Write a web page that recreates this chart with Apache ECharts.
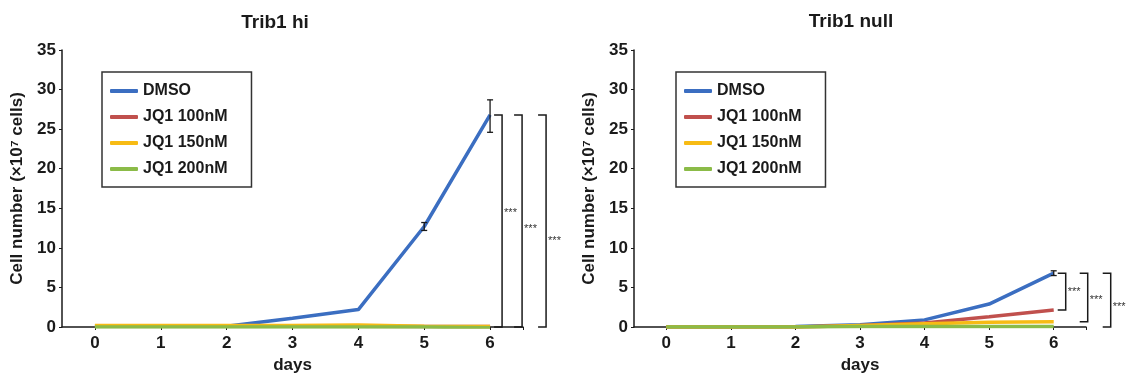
<!DOCTYPE html>
<html>
<head>
<meta charset="utf-8">
<script src="https://cdn.jsdelivr.net/npm/echarts@6/dist/echarts.min.js"></script>
<style>
  html, body { margin: 0; padding: 0; background: #fff; }
  #main { width: 1134px; height: 379px; }
</style>
</head>
<body>
<div id="main"></div>
<script>
// ---- data ----
var days = [0, 1, 2, 3, 4, 5, 6];
var seriesNames = ['DMSO', 'JQ1 100nM', 'JQ1 150nM', 'JQ1 200nM'];

// Trib1 hi
var hiDMSO = [0.1, 0.1, 0.1, 1.1, 2.2, 12.7, 26.8];
var hi100 = [0.1, 0.1, 0.1, 0.1, 0.1, 0.05, 0.05];
var hi150 = [0.2, 0.2, 0.2, 0.2, 0.25, 0.1, 0.05];
var hi200 = [0.0, 0.0, 0.0, 0.0, 0.0, 0.0, -0.1];
// error bars: [day, low, high]
var hiErr = [[5, 12.2, 13.2], [6, 24.6, 28.7]];
// significance brackets: [top, bottom]
var hiSig = [[26.8, 0], [26.8, 0], [26.8, 0]];

// Trib1 null
var nullDMSO = [0.0, 0.0, 0.05, 0.3, 0.9, 2.9, 6.8];
var null100 = [0.0, 0.0, 0.0, 0.2, 0.5, 1.3, 2.15];
var null150 = [0.0, 0.0, 0.0, 0.2, 0.4, 0.6, 0.65];
var null200 = [0.0, 0.0, 0.0, 0.05, 0.05, 0.05, 0.05];
var nullErr = [[6, 6.5, 7.1]];
var nullSig = [[6.8, 2.15], [6.8, 0.65], [6.8, 0.0]];

var colors = ['#3b6ec1', '#c0504d', '#f7bb14', '#8bbb48'];
var font = "'Liberation Sans', Arial, Helvetica, sans-serif";
var ink = '#1a1a1a';

// bracket pixel layout (offset right of day 6, star label shift)
var hiBracketX = [12, 32, 56];
var hiStarDy = [-8, 8, 20];
var nullBracketX = [12, 34, 57];
var nullStarDy = [0, 2, 7];

function pairs(vals) {
    return days.map(function (d, i) { return [d, vals[i]]; });
}

function lineSeries(name, vals, idx, k) {
    return {
        name: name,
        type: 'line',
        xAxisIndex: idx,
        yAxisIndex: idx,
        data: pairs(vals),
        showSymbol: false,
        symbol: 'none',
        lineStyle: { width: 3.5, color: colors[k] },
        itemStyle: { color: colors[k] },
        z: 2 + k
    };
}

function errSeries(err, idx) {
    return {
        type: 'custom',
        xAxisIndex: idx,
        yAxisIndex: idx,
        data: err,
        z: 10,
        renderItem: function (params, api) {
            var lo = api.coord([api.value(0), api.value(1)]);
            var hi = api.coord([api.value(0), api.value(2)]);
            var s = { stroke: ink, lineWidth: 1.3 };
            return {
                type: 'group',
                children: [
                    { type: 'line', shape: { x1: lo[0], y1: lo[1], x2: hi[0], y2: hi[1] }, style: s },
                    { type: 'line', shape: { x1: lo[0] - 3, y1: lo[1], x2: lo[0] + 3, y2: lo[1] }, style: s },
                    { type: 'line', shape: { x1: hi[0] - 3, y1: hi[1], x2: hi[0] + 3, y2: hi[1] }, style: s }
                ]
            };
        }
    };
}

function sigSeries(sig, idx, offX, starDy) {
    return {
        type: 'custom',
        xAxisIndex: idx,
        yAxisIndex: idx,
        data: sig,
        clip: false,
        z: 10,
        renderItem: function (params, api) {
            var i = params.dataIndex;
            var top = api.coord([6, api.value(0)]);
            var bot = api.coord([6, api.value(1)]);
            var x = top[0] + offX[i];
            var s = { stroke: ink, lineWidth: 1.5, fill: null };
            return {
                type: 'group',
                children: [
                    { type: 'polyline', shape: { points: [[x - 8, top[1]], [x, top[1]], [x, bot[1]], [x - 8, bot[1]]] }, style: s },
                    { type: 'text', style: { text: '***', x: x + 2, y: (top[1] + bot[1]) / 2 + starDy[i], verticalAlign: 'middle', font: '11px ' + font, fill: '#333' } }
                ]
            };
        }
    };
}

function xAxis(idx) {
    return {
        type: 'value',
        gridIndex: idx,
        min: -0.5,
        max: 6.5,
        name: 'days',
        nameLocation: 'middle',
        nameGap: 29,
        nameTextStyle: { fontFamily: font, fontWeight: 'bold', fontSize: 17, color: ink },
        axisLine: { show: true, onZero: false, lineStyle: { color: ink, width: 1.5 } },
        axisTick: { show: true, length: 3, customValues: days.concat([6.5]), lineStyle: { color: ink } },
        axisLabel: { customValues: days, margin: 8, fontFamily: font, fontWeight: 'bold', fontSize: 17, color: ink },
        splitLine: { show: false }
    };
}

function yAxis(idx) {
    return {
        type: 'value',
        gridIndex: idx,
        min: 0,
        max: 35,
        interval: 5,
        name: 'Cell number (\u00d710\u2077 cells)',
        nameLocation: 'middle',
        nameGap: 36,
        nameTextStyle: { fontFamily: font, fontWeight: 'bold', fontSize: 17, color: ink },
        axisLine: { show: true, onZero: false, lineStyle: { color: ink, width: 1.5 } },
        axisTick: { show: true, length: 3, lineStyle: { color: ink } },
        axisLabel: { margin: 6, fontFamily: font, fontWeight: 'bold', fontSize: 17, color: ink },
        splitLine: { show: false }
    };
}

function legend(left) {
    return {
        data: seriesNames,
        orient: 'vertical',
        left: left,
        top: 72,
        icon: 'roundRect',
        itemWidth: 28,
        itemHeight: 4,
        itemGap: 10,
        padding: [11, 24, 10, 8],
        borderColor: '#333',
        borderWidth: 1.5,
        textStyle: { fontFamily: font, fontWeight: 'bold', fontSize: 16, color: ink }
    };
}

var chart = echarts.init(document.getElementById('main'));
chart.setOption({
    animation: false,
    title: [
        { text: 'Trib1 hi', left: 270, top: 8, textAlign: 'center', textStyle: { fontFamily: font, fontWeight: 'bold', fontSize: 19, color: ink } },
        { text: 'Trib1 null', left: 846, top: 7, textAlign: 'center', textStyle: { fontFamily: font, fontWeight: 'bold', fontSize: 19, color: ink } }
    ],
    legend: [legend(102), legend(676)],
    grid: [
        { left: 62, top: 50, width: 461, bottom: 52 },
        { left: 634, top: 50, width: 452, bottom: 52 }
    ],
    xAxis: [xAxis(0), xAxis(1)],
    yAxis: [yAxis(0), yAxis(1)],
    series: [
        lineSeries(seriesNames[0], hiDMSO, 0, 0),
        lineSeries(seriesNames[1], hi100, 0, 1),
        lineSeries(seriesNames[2], hi150, 0, 2),
        lineSeries(seriesNames[3], hi200, 0, 3),
        errSeries(hiErr, 0),
        sigSeries(hiSig, 0, hiBracketX, hiStarDy),
        lineSeries(seriesNames[0], nullDMSO, 1, 0),
        lineSeries(seriesNames[1], null100, 1, 1),
        lineSeries(seriesNames[2], null150, 1, 2),
        lineSeries(seriesNames[3], null200, 1, 3),
        errSeries(nullErr, 1),
        sigSeries(nullSig, 1, nullBracketX, nullStarDy)
    ]
});
</script>
</body>
</html>
